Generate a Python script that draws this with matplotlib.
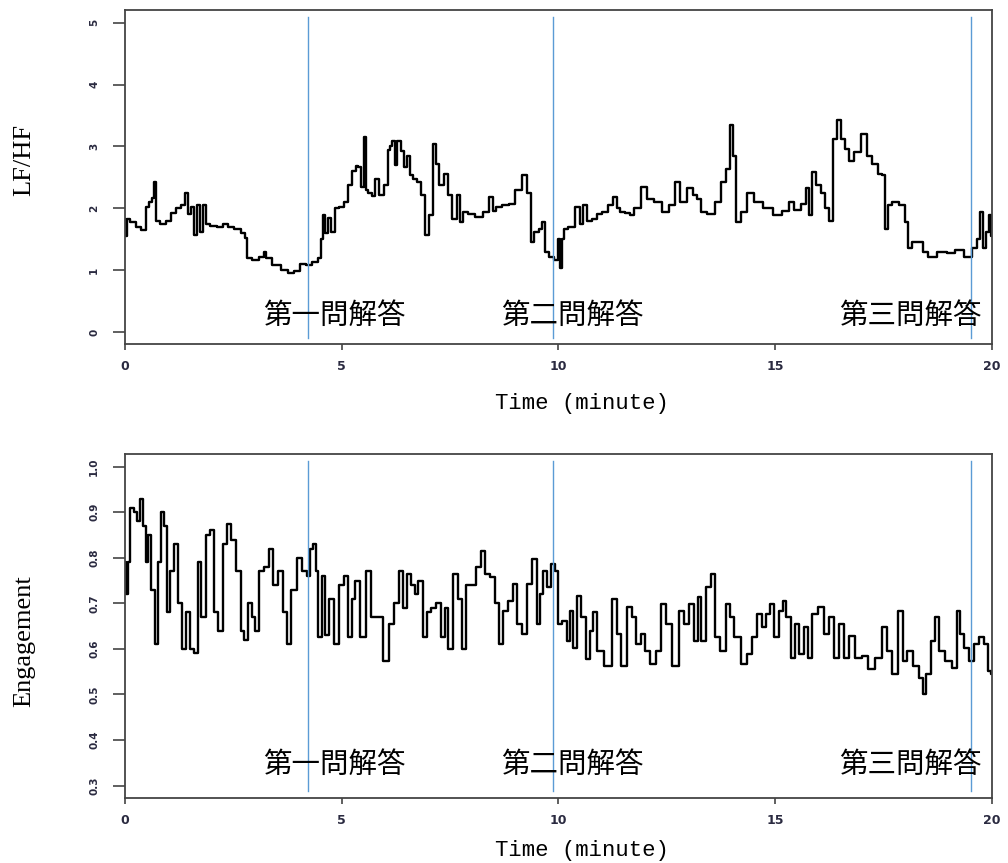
import matplotlib.pyplot as plt

# LF/HF (top panel)
t_lfhf = [0.00, 0.03, 0.06, 0.19, 0.30, 0.46, 0.50, 0.60, 0.65, 0.70, 0.72, 0.88, 1.00, 1.11, 1.25,
          1.35, 1.42, 1.48, 1.55, 1.62, 1.70, 1.77, 1.85, 1.90, 2.04, 2.20, 2.31, 2.45, 2.60, 2.73,
          2.80, 2.84, 3.00, 3.19, 3.22, 3.27, 3.50, 3.70, 3.84, 3.95, 4.11, 4.25, 4.40, 4.50, 4.55,
          4.57, 4.65, 4.72, 4.80, 4.88, 5.00, 5.11, 5.19, 5.30, 5.34, 5.42, 5.48, 5.53, 5.57, 5.65,
          5.75, 5.80, 5.90, 6.04, 6.08, 6.15, 6.19, 6.25, 6.30, 6.42, 6.46, 6.57, 6.60, 6.69, 6.78,
          6.88, 6.96, 7.05, 7.15, 7.20, 7.28, 7.42, 7.50, 7.61, 7.70, 7.75, 7.84, 8.00, 8.15, 8.35,
          8.46, 8.50, 8.61, 8.80, 8.92, 9.07, 9.23, 9.34, 9.38, 9.49, 9.60, 9.65, 9.73, 9.84, 9.96,
          10.00, 10.06, 10.10, 10.15, 10.30, 10.46, 10.52, 10.61, 10.72, 10.84, 10.95, 11.07, 11.20,
          11.30, 11.40, 11.46, 11.60, 11.69, 11.80, 11.99, 12.10, 12.30, 12.49, 12.60, 12.76, 12.85,
          13.07, 13.15, 13.26, 13.34, 13.53, 13.69, 13.80, 13.92, 14.01, 14.05, 14.13, 14.30, 14.42,
          14.60, 14.84, 15.07, 15.25, 15.38, 15.50, 15.68, 15.75, 15.80, 15.88, 16.00, 16.11, 16.20,
          16.30, 16.38, 16.49, 16.55, 16.68, 16.75, 16.90, 17.07, 17.15, 17.30, 17.45, 17.49, 17.57,
          17.65, 17.76, 17.96, 18.03, 18.11, 18.20, 18.38, 18.45, 18.61, 18.84, 19.07, 19.25, 19.45,
          19.61, 19.70, 19.76, 19.82, 19.90, 19.96, 20.00]
lfhf = [1.82, 1.55, 1.82, 1.78, 1.70, 1.65, 2.02, 2.10, 2.16, 2.42, 1.80, 1.74, 1.80, 1.92, 2.00,
        2.05, 2.24, 1.90, 2.02, 1.56, 2.05, 1.62, 2.05, 1.74, 1.72, 1.70, 1.74, 1.70, 1.66, 1.60,
        1.52, 1.19, 1.17, 1.22, 1.29, 1.20, 1.08, 1.00, 0.95, 0.98, 1.10, 1.08, 1.13, 1.19, 1.50,
        1.89, 1.60, 1.84, 1.62, 2.00, 2.02, 2.10, 2.37, 2.60, 2.69, 2.66, 2.35, 3.15, 2.29, 2.24,
        2.20, 2.47, 2.22, 2.37, 2.95, 3.00, 3.09, 2.70, 3.09, 2.92, 2.66, 2.85, 2.53, 2.48, 2.42,
        2.21, 1.56, 1.89, 3.04, 2.72, 2.37, 2.56, 2.21, 1.83, 2.21, 1.78, 1.94, 1.90, 1.86, 1.94,
        2.18, 1.96, 2.02, 2.05, 2.07, 2.29, 2.53, 2.24, 1.46, 1.62, 1.66, 1.78, 1.30, 1.21, 1.16,
        1.51, 1.03, 1.50, 1.67, 1.70, 2.02, 1.75, 2.05, 1.80, 1.83, 1.90, 1.94, 2.05,
        2.18, 2.00, 1.94, 1.92, 1.89, 2.00, 2.34, 2.15, 2.10, 1.94, 2.05, 2.42, 2.10,
        2.32, 2.21, 2.15, 1.94, 1.91, 2.10, 2.42, 2.64, 3.34, 2.85, 1.78, 1.94, 2.24,
        2.10, 2.00, 1.89, 1.95, 2.10, 1.98, 2.07, 2.32, 1.89, 2.59, 2.37, 2.24, 2.00,
        1.80, 3.12, 3.42, 3.12, 2.96, 2.77, 2.91, 3.20, 2.85, 2.72, 2.55, 2.53, 1.67,
        2.05, 2.10, 2.05, 1.78, 1.35, 1.46, 1.46, 1.30, 1.21, 1.30, 1.27, 1.32, 1.21,
        1.35, 1.51, 1.94, 1.35, 1.62, 1.89, 1.55]

# Engagement (bottom panel)
t_eng = [0.00, 0.04, 0.08, 0.15, 0.25, 0.31, 0.38, 0.45, 0.50, 0.55, 0.65, 0.73, 0.80, 0.87, 0.93,
         1.00, 1.08, 1.19, 1.27, 1.35, 1.45, 1.54, 1.65, 1.73, 1.80, 1.92, 2.00, 2.11, 2.20, 2.31,
         2.38, 2.50, 2.61, 2.72, 2.79, 2.88, 2.96, 3.05, 3.15, 3.27, 3.38, 3.46, 3.58, 3.69, 3.79,
         3.88, 4.04, 4.15, 4.23, 4.30, 4.38, 4.42, 4.50, 4.57, 4.65, 4.77, 4.88, 4.99, 5.11, 5.19,
         5.27, 5.36, 5.50, 5.61, 5.73, 5.88, 6.04, 6.15, 6.27, 6.38, 6.46, 6.57, 6.65, 6.73, 6.81,
         6.92, 7.00, 7.11, 7.23, 7.34, 7.42, 7.50, 7.65, 7.73, 7.83, 7.92, 8.04, 8.15, 8.27, 8.34,
         8.50, 8.57, 8.69, 8.77, 8.92, 9.00, 9.11, 9.23, 9.34, 9.46, 9.53, 9.61, 9.69, 9.77, 9.88,
         9.96, 10.01, 10.15, 10.23, 10.30, 10.38, 10.46, 10.57, 10.69, 10.77, 10.84, 10.96, 11.15,
         11.30, 11.38, 11.53, 11.65, 11.76, 11.84, 11.96, 12.03, 12.19, 12.30, 12.42, 12.53, 12.73,
         12.84, 12.96, 13.07, 13.18, 13.26, 13.34, 13.46, 13.57, 13.65, 13.80, 13.92, 13.99, 14.11,
         14.30, 14.42, 14.53, 14.65, 14.73, 14.84, 14.92, 15.03, 15.15, 15.22, 15.30, 15.41, 15.49,
         15.61, 15.72, 15.80, 15.91, 16.07, 16.19, 16.30, 16.42, 16.53, 16.65, 16.76, 16.92, 17.07,
         17.22, 17.38, 17.53, 17.65, 17.76, 17.91, 17.99, 18.11, 18.26, 18.38, 18.42, 18.53, 18.65,
         18.72, 18.84, 18.99, 19.15, 19.22, 19.30, 19.42, 19.53, 19.65, 19.76, 19.87, 19.95, 20.00]
engagement = [0.79, 0.72, 0.79, 0.91, 0.90, 0.88, 0.93, 0.87, 0.79, 0.85, 0.73, 0.61, 0.79, 0.90, 0.87,
              0.68, 0.77, 0.83, 0.70, 0.60, 0.68, 0.60, 0.59, 0.79, 0.67, 0.85, 0.86, 0.68, 0.64, 0.83,
              0.875, 0.84, 0.77, 0.64, 0.62, 0.70, 0.67, 0.64, 0.77, 0.78, 0.82, 0.74, 0.77, 0.68, 0.61,
              0.73, 0.80, 0.77, 0.76, 0.82, 0.83, 0.77, 0.625, 0.76, 0.63, 0.71, 0.61, 0.74, 0.76, 0.625,
              0.71, 0.75, 0.625, 0.77, 0.67, 0.67, 0.574, 0.655, 0.70, 0.77, 0.69, 0.765, 0.74, 0.72, 0.75,
              0.625, 0.68, 0.69, 0.70, 0.625, 0.69, 0.60, 0.765, 0.71, 0.60, 0.74, 0.74, 0.78, 0.815, 0.765,
              0.757, 0.70, 0.61, 0.684, 0.706, 0.743, 0.655, 0.633, 0.743, 0.798, 0.655, 0.72, 0.772, 0.735, 0.787,
              0.772, 0.655, 0.662, 0.618, 0.684, 0.603, 0.717, 0.669, 0.578, 0.64, 0.68, 0.596, 0.563,
              0.71, 0.633, 0.563, 0.691, 0.669, 0.611, 0.633, 0.596, 0.567, 0.596, 0.699, 0.655, 0.563,
              0.684, 0.655, 0.699, 0.618, 0.713, 0.618, 0.735, 0.765, 0.625, 0.596, 0.699, 0.669, 0.625,
              0.567, 0.589, 0.625, 0.677, 0.647, 0.677, 0.699, 0.625, 0.684, 0.706, 0.669, 0.581, 0.655,
              0.589, 0.647, 0.581, 0.677, 0.691, 0.633, 0.669, 0.581, 0.655, 0.581, 0.629, 0.581, 0.585,
              0.555, 0.581, 0.647, 0.596, 0.544, 0.684, 0.574, 0.596, 0.563, 0.537, 0.500, 0.544, 0.618,
              0.669, 0.596, 0.574, 0.559, 0.684, 0.633, 0.603, 0.574, 0.611, 0.625, 0.611, 0.552, 0.544]

# answer times (minutes) and their labels
answer_times = [4.22, 9.87, 19.52]
answer_labels = ["第一問解答", "第二問解答", "第三問解答"]
label_x = [4.82, 10.32, 18.12]

jp_font = ["Noto Sans CJK JP", "DejaVu Sans"]
serif_font = "Liberation Serif"
mono_font = "Liberation Mono"

fig = plt.figure(figsize=(10.08, 8.63), dpi=100)
ax1 = fig.add_axes([0.124, 0.601, 0.860, 0.387])
ax2 = fig.add_axes([0.124, 0.075, 0.860, 0.399])

panels = [
    (ax1, t_lfhf, lfhf, (-0.2, 5.2), [0, 1, 2, 3, 4, 5], "LF/HF", 0.26, 0.551, -0.177),
    (ax2, t_eng, engagement, (0.272, 1.028), [0.3, 0.4, 0.5, 0.6, 0.7, 0.8, 0.9, 1.0], "Engagement", 0.346, 0.456, -0.151),
]

for ax, t, v, ylim, yticks, ylabel, text_y, ylab_y, xlab_y in panels:
    # stair-step trace like R's type="s"
    ax.plot(t, v, color="black", lw=1.7, drawstyle="steps-mid")
    for x in answer_times:
        ax.axvline(x, ymin=0.02, ymax=0.98, color="#5b9bd5", lw=1.0)
    for x, s in zip(label_x, answer_labels):
        ax.text(x, text_y, s, ha="center", va="center", fontsize=20.5, family=jp_font)

    ax.set_xlim(0, 20)
    ax.set_ylim(*ylim)
    ax.set_xticks([0, 5, 10, 15, 20])
    ax.set_yticks(yticks)
    if ax is ax2:
        ax.set_yticklabels([f"{y:.1f}" for y in yticks])
    ax.tick_params(axis="x", length=4.5, width=1.2, pad=7, labelsize=9, colors="#444444",
                   labelcolor="#2a2a40")
    ax.tick_params(axis="y", length=8.5, width=1.2, pad=10, labelsize=7.5, colors="#444444",
                   labelcolor="#2a2a40", labelrotation=90)
    for lab in ax.get_xticklabels() + ax.get_yticklabels():
        lab.set_fontweight("bold")
    for lab in ax.get_yticklabels():
        lab.set_va("center")
    for sp in ax.spines.values():
        sp.set_color("#444444")
        sp.set_linewidth(1.3)

    ax.set_ylabel(ylabel, family=serif_font, fontsize=19)
    ax.yaxis.set_label_coords(-0.116, ylab_y)
    ax.set_xlabel("Time (minute)", family=mono_font, fontsize=16)
    ax.xaxis.set_label_coords(0.527, xlab_y)
    ax.xaxis.label.set_va("center")
    ax.yaxis.label.set_va("center")

plt.savefig("out.png", dpi=100)
